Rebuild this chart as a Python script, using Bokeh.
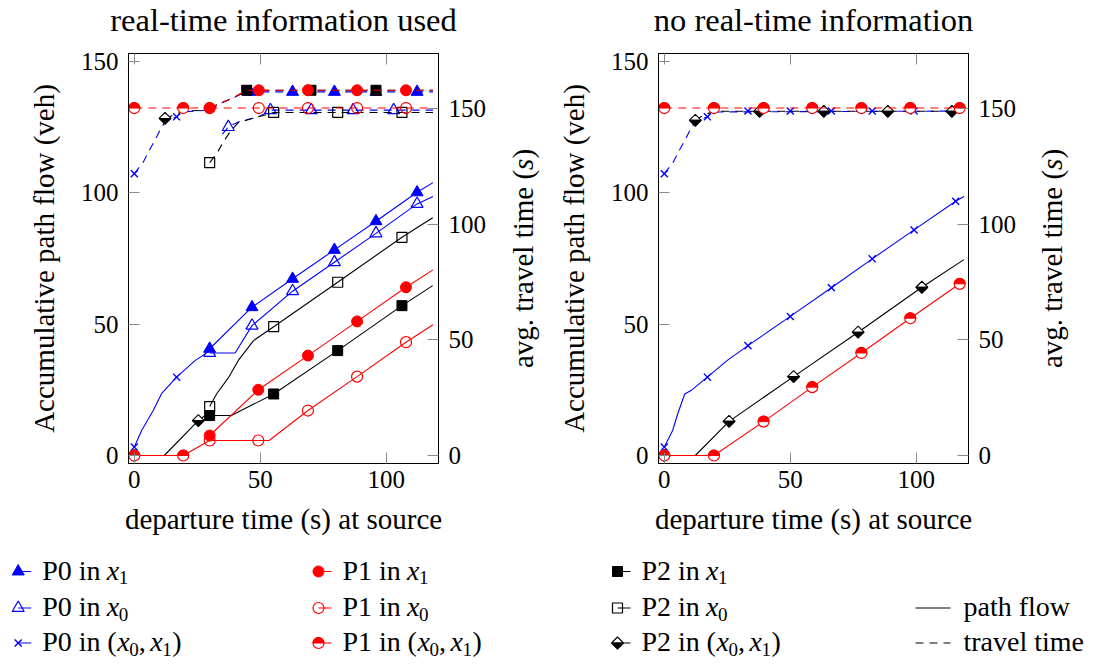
import numpy as np
from bokeh.plotting import figure
from bokeh.models import Range1d, LinearAxis, FixedTicker
from bokeh.layouts import column, row
from bokeh.core.properties import value
from bokeh.embed import file_html
from bokeh.resources import INLINE

FONT = "Liberation Serif"
BLUE, RED, BLACK = "#0000ff", "#ff0000", "#000000"

# ---------------- tick values ----------------
X_TICKS = [0, 50, 100]
Y_TICKS = [0, 50, 100, 150]
TT_TICKS = [0, 50, 100, 150]

# ---------------- left panel: real-time information used ----------------
# accumulative path flow (veh)
L_p0_mix_x = [0, 2.9, 7.5, 10.8, 16.8, 24.1, 29.9]
L_p0_mix_y = [3.2, 9.5, 17.1, 23.5, 29.8, 36.1, 39.8]
L_p0_mix_mx = [0, 16.8]
L_p0_mix_my = [3.2, 29.8]
L_p0_x1_x = [29.9, 46.7, 62.8, 79.4, 95.9, 112.2, 118.5]
L_p0_x1_y = [40.6, 56.4, 67.2, 78.2, 89.1, 100.1, 103.8]
L_p0_x1_mx = [29.9, 46.7, 62.8, 79.4, 95.9, 112.2]
L_p0_x1_my = [40.6, 56.4, 67.2, 78.2, 89.1, 100.1]
L_p0_x0_x = [29.9, 40.0, 46.7, 62.8, 79.4, 95.9, 112.2, 118.5]
L_p0_x0_y = [39.0, 39.0, 49.4, 62.5, 73.5, 84.5, 95.7, 98.5]
L_p0_x0_mx = [29.9, 46.7, 62.8, 79.4, 95.9, 112.2]
L_p0_x0_my = [39.0, 49.4, 62.5, 73.5, 84.5, 95.7]

L_p1_mix_x = [0, 19.4, 29.9]
L_p1_mix_y = [0, 0, 5.7]
L_p1_mix_mx = [0, 19.4]
L_p1_mix_my = [0, 0]
L_p1_x1_x = [29.9, 49.2, 68.9, 88.4, 107.8, 118.5]
L_p1_x1_y = [7.6, 25.0, 38.0, 51.0, 64.0, 70.6]
L_p1_x1_mx = [29.9, 49.2, 68.9, 88.4, 107.8]
L_p1_x1_my = [7.6, 25.0, 38.0, 51.0, 64.0]
L_p1_x0_x = [29.9, 49.2, 53.5, 68.9, 88.4, 107.8, 118.5]
L_p1_x0_y = [5.7, 5.7, 5.7, 17.1, 30.0, 43.1, 49.7]
L_p1_x0_mx = [29.9, 49.2, 68.9, 88.4, 107.8]
L_p1_x0_my = [5.7, 5.7, 17.1, 30.0, 43.1]

L_p2_mix_x = [0, 11.9, 25.4, 29.9]
L_p2_mix_y = [0, 0, 13.3, 16.5]
L_p2_mix_mx = [0, 25.4]
L_p2_mix_my = [0, 13.3]
L_p2_x1_x = [29.9, 38.5, 55.3, 80.7, 106.2, 118.4]
L_p2_x1_y = [15.2, 15.2, 23.4, 39.9, 57.0, 64.6]
L_p2_x1_mx = [29.9, 55.3, 80.7, 106.2]
L_p2_x1_my = [15.2, 23.4, 39.9, 57.0]
L_p2_x0_x = [29.9, 32.7, 37.3, 41.5, 47.3, 55.3, 80.7, 106.2, 118.4]
L_p2_x0_y = [18.6, 23.5, 29.5, 36.5, 43.7, 49.0, 65.9, 83.0, 90.4]
L_p2_x0_mx = [29.9, 55.3, 80.7, 106.2]
L_p2_x0_my = [18.6, 49.0, 65.9, 83.0]

# avg. travel time (s)
L_t_p0_mix_x = [0, 3.6, 5.6, 8.2, 10.2, 12.2, 16.8, 18.8, 29.9]
L_t_p0_mix_y = [121.9, 127.0, 131.3, 136.4, 140.7, 144.5, 146.5, 148.6, 149.4]
L_t_p0_mix_mx = [0, 16.8]
L_t_p0_mix_my = [121.9, 146.5]
L_t_p2_mix_x = [12.2, 16.0, 20.0, 29.9]
L_t_p2_mix_y = [145.8, 147.5, 149.0, 149.4]
L_t_p2_mix_mx = [12.2]
L_t_p2_mix_my = [145.8]
L_t_p1_mix_x = [0, 29.9]
L_t_p1_mix_y = [150.3, 150.3]
L_t_p1_mix_mx = [0, 19.4]
L_t_p1_mix_my = [150.3, 150.3]
L_t_p1_x0_x = [29.9, 118.5]
L_t_p1_x0_y = [150.3, 150.3]
L_t_p1_x0_mx = [29.9, 49.4, 68.9, 88.4, 107.8]
L_t_p1_x0_my = [150.3, 150.3, 150.3, 150.3, 150.3]
L_t_p0_x0_x = [35.0, 37.3, 41.3, 49.2, 54.5, 118.5]
L_t_p0_x0_y = [139.0, 142.1, 144.3, 146.5, 149.4, 149.4]
L_t_p0_x0_mx = [37.3, 54.0, 70.2, 86.8, 102.9]
L_t_p0_x0_my = [142.1, 149.4, 149.4, 149.4, 149.4]
L_t_p2_x0_x = [29.9, 32.7, 35.3, 38.0, 41.3, 49.2, 55.3, 118.5]
L_t_p2_x0_y = [126.7, 130.6, 135.6, 140.0, 144.0, 146.5, 148.4, 148.4]
L_t_p2_x0_mx = [29.9, 55.3, 80.7, 106.2]
L_t_p2_x0_my = [126.7, 148.4, 148.4, 148.4]
L_t_p0_x1_x = [29.9, 33.0, 36.0, 40.0, 44.0, 118.5]
L_t_p0_x1_y = [149.4, 151.5, 153.2, 155.1, 157.3, 157.3]
L_t_p0_x1_mx = [46.0, 62.8, 79.4, 95.9, 112.2]
L_t_p0_x1_my = [157.3, 157.3, 157.3, 157.3, 157.3]
L_t_p2_x1_x = [29.9, 36.0, 40.0, 44.6, 118.5]
L_t_p2_x1_y = [150.3, 153.2, 155.1, 158.0, 158.0]
L_t_p2_x1_mx = [44.6, 70.1, 95.9]
L_t_p2_x1_my = [158.0, 158.0, 158.0]
L_t_p1_x1_x = [29.9, 36.0, 40.0, 44.6, 118.5]
L_t_p1_x1_y = [150.3, 153.2, 155.1, 158.0, 158.0]
L_t_p1_x1_mx = [29.9, 49.4, 68.9, 88.4, 107.8]
L_t_p1_x1_my = [150.3, 158.0, 158.0, 158.0, 158.0]

# ---------------- right panel: no real-time information ----------------
R_p0_x = [0, 3.3, 5.3, 8.1, 10.6, 17.1, 25.0, 33.2, 50.0, 66.3, 82.5, 99.1, 115.6, 118.9]
R_p0_y = [3.2, 9.5, 15.8, 23.4, 24.7, 29.8, 36.2, 41.8, 52.9, 63.8, 74.8, 85.8, 96.7, 98.5]
R_p0_mx = [0, 17.1, 33.2, 50.0, 66.3, 82.5, 99.1, 115.6]
R_p0_my = [3.2, 29.8, 41.8, 52.9, 63.8, 74.8, 85.8, 96.7]
R_p1_x = [0, 19.7, 39.4, 58.7, 78.2, 97.6, 117.2]
R_p1_y = [0, 0, 12.9, 26.0, 39.0, 52.2, 65.3]
R_p1_mx = [0, 19.7, 39.4, 58.7, 78.2, 97.6, 117.2]
R_p1_my = [0, 0, 12.9, 26.0, 39.0, 52.2, 65.3]
R_p2_x = [0, 12.3, 25.7, 51.3, 76.9, 102.2, 118.9]
R_p2_y = [0, 0, 13.0, 30.0, 46.9, 64.0, 74.5]
R_p2_mx = [0, 25.7, 51.3, 76.9, 102.2]
R_p2_my = [0, 13.0, 30.0, 46.9, 64.0]

R_t_p1_x = [0, 117.2]
R_t_p1_y = [150.3, 150.3]
R_t_p1_mx = [0, 19.7, 39.4, 58.7, 78.2, 97.6, 117.2]
R_t_p1_my = [150.3, 150.3, 150.3, 150.3, 150.3, 150.3, 150.3]
R_t_p0_x = [0, 3.6, 5.6, 8.2, 10.2, 12.2, 17.1, 19.0, 118.9]
R_t_p0_y = [121.9, 127.0, 131.3, 136.4, 140.7, 144.5, 146.5, 148.6, 149.0]
R_t_p0_mx = [0, 17.1, 33.2, 50.0, 66.3, 82.5, 99.1]
R_t_p0_my = [121.9, 146.5, 149.0, 149.0, 149.0, 149.0, 149.0]
R_t_p2_x = [12.3, 16.0, 20.0, 118.9]
R_t_p2_y = [145.0, 147.5, 148.9, 148.9]
R_t_p2_mx = [12.3, 37.8, 63.3, 88.7, 114.1]
R_t_p2_my = [145.0, 148.9, 148.9, 148.9, 148.9]

# ---------------- texts ----------------
TITLES = ["real-time information used", "no real-time information"]
LEG_COLS = [
    [("P0", "x1", BLUE, "tri_f"), ("P0", "x0", BLUE, "tri_o"), ("P0", "mix", BLUE, "x")],
    [("P1", "x1", RED, "circ_f"), ("P1", "x0", RED, "circ_o"), ("P1", "mix", RED, "half_circ")],
    [("P2", "x1", BLACK, "sq_f"), ("P2", "x0", BLACK, "sq_o"), ("P2", "mix", BLACK, "half_diam")],
]
LEG_LINES = [("path flow", "solid"), ("travel time", "8 6")]
TT_LABEL = [("avg. travel time (", "normal"), ("s", "italic"), (")", "normal")]

# ---------------- layout constants (page pixels) ----------------
XR = (-2.3, 120.7)
YR = (-3.04, 152.9)
TR = (-3.46, 173.9)
FW, FH = 310, 410
TITLE_H = 45          # title strip height
FRAME_TOP = 53        # page y of the plot frames' top edge
ROW_H = 505           # height of the plot row (page y 45..550)
B_TOP = FRAME_TOP - TITLE_H
B_BOT = ROW_H - B_TOP - FH
DASH = "8 6"
LW = 1.1
LABEL_SIZE = "29px"


def blank(width, height, xr, yr, b_top=0, b_bot=0):
    q = figure(width=width, height=height, x_range=Range1d(*xr), y_range=Range1d(*yr),
               output_backend="svg", toolbar_location=None, x_axis_location=None, y_axis_location=None,
               min_border_left=0, min_border_right=0, min_border_top=b_top, min_border_bottom=b_bot)
    q.grid.visible = False
    q.outline_line_color = None
    return q


def draw_marks(p, mx, my, color, kind, rng, sx, sy):
    kw = {"y_range_name": rng} if rng else {}
    if kind == "tri_f":
        p.scatter(mx, my, marker="triangle", size=12, fill_color=color, line_color=color, **kw)
    elif kind == "tri_o":
        p.scatter(mx, my, marker="triangle", size=12, fill_color=None, line_color=color, line_width=1.2, **kw)
    elif kind == "x":
        p.scatter(mx, my, marker="x", size=10, line_color=color, line_width=1.4, **kw)
    elif kind == "circ_f":
        p.scatter(mx, my, marker="circle", size=11, fill_color=color, line_color=color, **kw)
    elif kind == "circ_o":
        p.scatter(mx, my, marker="circle", size=11, fill_color=None, line_color=color, line_width=1.2, **kw)
    elif kind == "sq_f":
        p.scatter(mx, my, marker="square", size=10, fill_color=color, line_color=color, **kw)
    elif kind == "sq_o":
        p.scatter(mx, my, marker="square", size=10, fill_color=None, line_color=color, line_width=1.2, **kw)
    elif kind == "half_circ":
        p.scatter(mx, my, marker="circle", size=11, fill_color="white", line_color=color, line_width=1.2, **kw)
        p.wedge(mx, my, radius=5.5, radius_units="screen", start_angle=0, end_angle=np.pi,
                fill_color=color, line_color=color, line_width=1.0, **kw)
    elif kind == "half_diam":
        w = 6.0 / sx
        h = 6.0 / sy
        tx = [[x - w, x, x + w] for x in mx]
        ty = [[y, y + h, y] for y in my]
        by = [[y, y - h, y] for y in my]
        p.patches(tx, ty, fill_color="white", line_color=color, line_width=1.1, **kw)
        p.patches(tx, by, fill_color=color, line_color=color, line_width=1.1, **kw)


def series(p, xs, ys, mx, my, color, kind, dash, rng, sx, sy):
    kw = {"y_range_name": rng} if rng else {}
    p.line(xs, ys, line_color=color, line_width=LW, line_dash=dash, **kw)
    draw_marks(p, mx, my, color, kind, rng, sx, sy)


def style_axis(ax, ticks, label, font_size="25px"):
    ax.ticker = FixedTicker(ticks=ticks)
    ax.major_tick_in = 11
    ax.major_tick_out = 0
    ax.minor_tick_line_color = None
    ax.major_tick_line_color = "#8a8a8a"
    ax.major_tick_line_width = 1
    ax.axis_line_color = BLACK
    ax.axis_line_width = 1
    ax.major_label_text_font = FONT
    ax.major_label_text_font_size = font_size
    ax.major_label_text_color = BLACK
    ax.major_label_standoff = 10
    ax.axis_label = label
    ax.axis_label_text_font = FONT
    ax.axis_label_text_font_size = LABEL_SIZE
    ax.axis_label_text_font_style = "normal"
    ax.axis_label_text_color = BLACK


def make_panel(left_border, right_border):
    width = left_border + FW + right_border
    p = figure(width=width, height=ROW_H, x_range=Range1d(*XR), y_range=Range1d(*YR),
               output_backend="svg", toolbar_location=None,
               min_border_left=left_border, min_border_right=right_border,
               min_border_top=B_TOP, min_border_bottom=B_BOT)
    p.extra_y_ranges = {"tt": Range1d(*TR)}
    p.grid.visible = False
    p.outline_line_color = BLACK
    p.outline_line_width = 1
    p.background_fill_color = "white"
    p.border_fill_color = "white"

    style_axis(p.yaxis[0], Y_TICKS, "Accumulative path flow (veh)")
    p.yaxis[0].axis_label_standoff = 18
    style_axis(p.xaxis[0], X_TICKS, "departure time (s) at source")
    p.xaxis[0].major_label_standoff = 7
    p.xaxis[0].axis_label_standoff = 12

    top = LinearAxis()
    style_axis(top, X_TICKS, None, font_size="1px")
    top.major_label_overrides = {0: "", 50: "", 100: ""}
    top.major_label_standoff = 0
    p.add_layout(top, "above")

    right = LinearAxis(y_range_name="tt")
    style_axis(right, TT_TICKS, None)
    p.add_layout(right, "right")

    sx = FW / (XR[1] - XR[0])
    sy = FH / (YR[1] - YR[0])
    st = FH / (TR[1] - TR[0])
    return p, sx, sy, st


def label_strip(width, xc):
    """narrow strip (same frame rows as the panels) holding the rotated right-axis title"""
    q = blank(width, ROW_H, (0, width), (FRAME_TOP + FH, FRAME_TOP), B_TOP, B_BOT)
    yc = FRAME_TOP + FH / 2.0
    y0 = yc + 109.5
    offs = [0.0, 198.0, 209.4]
    for off, (txt, style) in zip(offs, TT_LABEL):
        q.text([xc], [y0 - off], text=[txt], angle=np.pi / 2, text_font=value(FONT),
               text_font_size=LABEL_SIZE, text_font_style=style, text_color=BLACK,
               text_align="left", text_baseline="middle")
    return q


# ---------------- title strip ----------------
pT = blank(1094, TITLE_H, (0, 1094), (TITLE_H, 0))
pT.text([128 + FW / 2.0, 658 + FW / 2.0], [19.5, 19.5], text=TITLES, text_font=value(FONT),
        text_font_size="32.5px", text_color=BLACK, text_align="center", text_baseline="middle")

# ---------------- left panel ----------------
pL, sx, sy, st = make_panel(128, 62)
# travel times (dashed, right axis)
series(pL, L_t_p0_mix_x, L_t_p0_mix_y, L_t_p0_mix_mx, L_t_p0_mix_my, BLUE, "x", DASH, "tt", sx, st)
series(pL, L_t_p2_mix_x, L_t_p2_mix_y, L_t_p2_mix_mx, L_t_p2_mix_my, BLACK, "half_diam", DASH, "tt", sx, st)
series(pL, L_t_p0_x0_x, L_t_p0_x0_y, L_t_p0_x0_mx, L_t_p0_x0_my, BLUE, "tri_o", DASH, "tt", sx, st)
series(pL, L_t_p2_x0_x, L_t_p2_x0_y, L_t_p2_x0_mx, L_t_p2_x0_my, BLACK, "sq_o", DASH, "tt", sx, st)
series(pL, L_t_p1_mix_x, L_t_p1_mix_y, L_t_p1_mix_mx, L_t_p1_mix_my, RED, "half_circ", DASH, "tt", sx, st)
series(pL, L_t_p1_x0_x, L_t_p1_x0_y, L_t_p1_x0_mx, L_t_p1_x0_my, RED, "circ_o", DASH, "tt", sx, st)
series(pL, L_t_p0_x1_x, L_t_p0_x1_y, L_t_p0_x1_mx, L_t_p0_x1_my, BLUE, "tri_f", DASH, "tt", sx, st)
series(pL, L_t_p2_x1_x, L_t_p2_x1_y, L_t_p2_x1_mx, L_t_p2_x1_my, BLACK, "sq_f", DASH, "tt", sx, st)
series(pL, L_t_p1_x1_x, L_t_p1_x1_y, L_t_p1_x1_mx, L_t_p1_x1_my, RED, "circ_f", DASH, "tt", sx, st)
# path flows (solid, left axis)
series(pL, L_p0_mix_x, L_p0_mix_y, L_p0_mix_mx, L_p0_mix_my, BLUE, "x", "solid", None, sx, sy)
series(pL, L_p0_x1_x, L_p0_x1_y, L_p0_x1_mx, L_p0_x1_my, BLUE, "tri_f", "solid", None, sx, sy)
series(pL, L_p0_x0_x, L_p0_x0_y, L_p0_x0_mx, L_p0_x0_my, BLUE, "tri_o", "solid", None, sx, sy)
series(pL, L_p2_mix_x, L_p2_mix_y, L_p2_mix_mx, L_p2_mix_my, BLACK, "half_diam", "solid", None, sx, sy)
series(pL, L_p2_x1_x, L_p2_x1_y, L_p2_x1_mx, L_p2_x1_my, BLACK, "sq_f", "solid", None, sx, sy)
series(pL, L_p2_x0_x, L_p2_x0_y, L_p2_x0_mx, L_p2_x0_my, BLACK, "sq_o", "solid", None, sx, sy)
series(pL, L_p1_mix_x, L_p1_mix_y, L_p1_mix_mx, L_p1_mix_my, RED, "half_circ", "solid", None, sx, sy)
series(pL, L_p1_x1_x, L_p1_x1_y, L_p1_x1_mx, L_p1_x1_my, RED, "circ_f", "solid", None, sx, sy)
series(pL, L_p1_x0_x, L_p1_x0_y, L_p1_x0_mx, L_p1_x0_my, RED, "circ_o", "solid", None, sx, sy)

# ---------------- right panel ----------------
pR, sx, sy, st = make_panel(113, 62)
series(pR, R_t_p0_x, R_t_p0_y, R_t_p0_mx, R_t_p0_my, BLUE, "x", DASH, "tt", sx, st)
series(pR, R_t_p2_x, R_t_p2_y, R_t_p2_mx, R_t_p2_my, BLACK, "half_diam", DASH, "tt", sx, st)
series(pR, R_t_p1_x, R_t_p1_y, R_t_p1_mx, R_t_p1_my, RED, "half_circ", DASH, "tt", sx, st)
series(pR, R_p0_x, R_p0_y, R_p0_mx, R_p0_my, BLUE, "x", "solid", None, sx, sy)
series(pR, R_p2_x, R_p2_y, R_p2_mx, R_p2_my, BLACK, "half_diam", "solid", None, sx, sy)
series(pR, R_p1_x, R_p1_y, R_p1_mx, R_p1_my, RED, "half_circ", "solid", None, sx, sy)

# strips: left panel ends at 500 px, right panel spans 545..1030 px
stripA = label_strip(45, 22.5)
stripB = label_strip(64, 21.0)

# ---------------- legend ----------------
LEG_TOP = TITLE_H + ROW_H
LEG_H = 664 - LEG_TOP
pG = blank(1094, LEG_H, (0, 1094), (664, LEG_TOP))

col_text_x = [41.7, 342.0, 641.0]
row_base = [579.0, 615.5, 650.5]
groups = {("normal", "28px"): ([], [], []), ("italic", "28px"): ([], [], []), ("normal", "19px"): ([], [], [])}
MID = {"28px": 9.2, "19px": 6.2}


def add_piece(x, y, t, style, size):
    g = groups[(style, size)]
    g[0].append(x); g[1].append(y - MID[size]); g[2].append(t)


for ci, col in enumerate(LEG_COLS):
    tx = col_text_x[ci]
    mxp = tx - 24.0
    for ri, (name, which, color, kind) in enumerate(col):
        yb = row_base[ri]
        yc = yb - 8.0
        pG.line([mxp, mxp + 13], [yc, yc], line_color=color, line_width=LW)
        draw_marks(pG, [mxp], [yc], color, kind, None, 1.0, -1.0)
        add_piece(tx, yb, name + " in", "normal", "28px")
        if which in ("x1", "x0"):
            add_piece(tx + 64.5, yb, "x", "italic", "28px")
            add_piece(tx + 76.5, yb + 4.5, which[1], "normal", "19px")
        else:
            add_piece(tx + 65.0, yb, "(", "normal", "28px")
            add_piece(tx + 75.0, yb, "x", "italic", "28px")
            add_piece(tx + 87.0, yb + 4.5, "0", "normal", "19px")
            add_piece(tx + 96.5, yb, ",", "normal", "28px")
            add_piece(tx + 108.0, yb, "x", "italic", "28px")
            add_piece(tx + 120.0, yb + 4.5, "1", "normal", "19px")
            add_piece(tx + 130.0, yb, ")", "normal", "28px")

for li, (lab, dash) in enumerate(LEG_LINES):
    yb = row_base[li + 1]
    yc = yb - 8.0
    pG.line([915, 950], [yc, yc], line_color=BLACK, line_width=LW, line_dash=dash)
    add_piece(963, yb, lab, "normal", "28px")

for (style, size), (xs, ys, ts) in groups.items():
    pG.text(xs, ys, text=ts, text_font=value(FONT), text_font_size=size, text_font_style=style,
            text_baseline="middle", text_align="left", text_color=BLACK)

layout = column(pT, row(pL, stripA, pR, stripB), pG)
open("out.html", "w").write(file_html(layout, INLINE))
